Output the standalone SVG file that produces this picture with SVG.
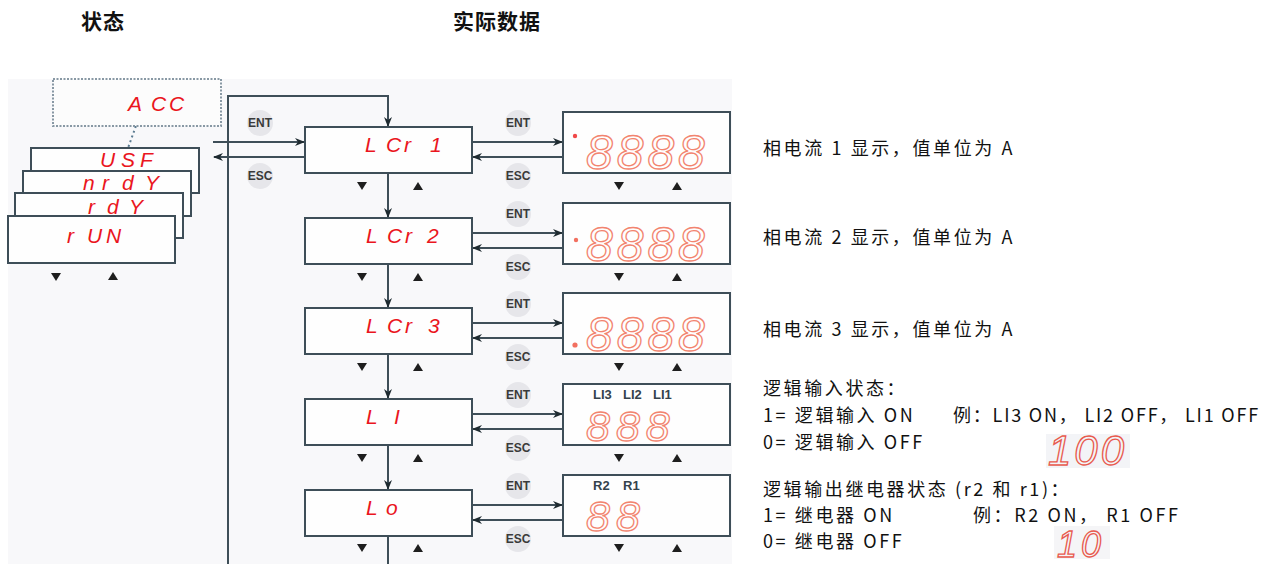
<svg xmlns="http://www.w3.org/2000/svg" width="1278" height="564" viewBox="0 0 1278 564">
<defs>
<style>
.box{fill:#fefefe;stroke:#3e4e58;stroke-width:2}
.ln{fill:none;stroke:#3e4e58;stroke-width:2}
.seg{font-family:"Liberation Sans",sans-serif;font-style:italic;fill:#ea1520;font-size:21px}
.btn{font-family:"Liberation Sans",sans-serif;font-weight:bold;font-size:12px;fill:#3a3a3a;text-anchor:middle}
.bc{fill:#e6e6ea}
.dig{font-family:"Liberation Sans",sans-serif;font-style:italic;fill:none;stroke:#f2846f;stroke-width:1.3}
.lab{font-family:"Liberation Sans",sans-serif;font-weight:bold;font-size:13px;fill:#34424c}
.tri{fill:#1e1e1e}
.txt{font-family:"Noto Sans CJK SC",sans-serif;font-size:18px;letter-spacing:2.6px;fill:#111}
.hd{font-family:"Noto Sans CJK SC",sans-serif;font-size:21px;letter-spacing:1px;font-weight:bold;fill:#111;text-anchor:middle}
</style>
<marker id="ah" viewBox="0 0 10 10" refX="9" refY="5" markerWidth="10" markerHeight="10" orient="auto" markerUnits="userSpaceOnUse"><path d="M0,1 L10,5 L0,9 L3,5z" fill="#1e2a30"/></marker>
<path id="dn" d="M-5,-4 H5 L0,4z"/>
<path id="up" d="M-5,4 H5 L0,-4z"/>
</defs>
<rect width="1278" height="564" fill="#fff"/>
<rect x="8" y="79" width="724" height="485" fill="#f8f8fa"/>

<text class="hd" x="103" y="29">状态</text>
<text class="hd" x="497" y="29">实际数据</text>

<g id="connectors">
<path class="ln" d="M228,564 V96 H388 V126" marker-end="url(#ah)"/>
<line class="ln" x1="213" y1="142" x2="304" y2="142" marker-end="url(#ah)"/>
<line class="ln" x1="305" y1="157" x2="214" y2="157" marker-end="url(#ah)"/>
<line x1="141" y1="112" x2="128" y2="148" stroke="#5a7a90" stroke-width="2" stroke-dasharray="2,3"/>
<line class="ln" x1="388" y1="173" x2="388" y2="217" marker-end="url(#ah)"/>
<line class="ln" x1="388" y1="264" x2="388" y2="307" marker-end="url(#ah)"/>
<line class="ln" x1="388" y1="354" x2="388" y2="398" marker-end="url(#ah)"/>
<line class="ln" x1="388" y1="445" x2="388" y2="489" marker-end="url(#ah)"/>
<line class="ln" x1="388" y1="536" x2="388" y2="564"/>
<line class="ln" x1="472" y1="142" x2="562" y2="142" marker-end="url(#ah)"/>
<line class="ln" x1="563" y1="157" x2="473" y2="157" marker-end="url(#ah)"/>
<line class="ln" x1="472" y1="233" x2="562" y2="233" marker-end="url(#ah)"/>
<line class="ln" x1="563" y1="248" x2="473" y2="248" marker-end="url(#ah)"/>
<line class="ln" x1="472" y1="323" x2="562" y2="323" marker-end="url(#ah)"/>
<line class="ln" x1="563" y1="338" x2="473" y2="338" marker-end="url(#ah)"/>
<line class="ln" x1="472" y1="414" x2="562" y2="414" marker-end="url(#ah)"/>
<line class="ln" x1="563" y1="429" x2="473" y2="429" marker-end="url(#ah)"/>
<line class="ln" x1="472" y1="505" x2="562" y2="505" marker-end="url(#ah)"/>
<line class="ln" x1="563" y1="520" x2="473" y2="520" marker-end="url(#ah)"/>
</g>

<g id="buttons">
<circle class="bc" cx="260" cy="123" r="13"/><text class="btn" x="260" y="127">ENT</text>
<circle class="bc" cx="260" cy="176" r="13"/><text class="btn" x="260" y="180">ESC</text>
<circle class="bc" cx="518" cy="123" r="13"/><text class="btn" x="518" y="127">ENT</text>
<circle class="bc" cx="518" cy="176" r="13"/><text class="btn" x="518" y="180">ESC</text>
<circle class="bc" cx="518" cy="214" r="13"/><text class="btn" x="518" y="218">ENT</text>
<circle class="bc" cx="518" cy="267" r="13"/><text class="btn" x="518" y="271">ESC</text>
<circle class="bc" cx="518" cy="304" r="13"/><text class="btn" x="518" y="308">ENT</text>
<circle class="bc" cx="518" cy="357" r="13"/><text class="btn" x="518" y="361">ESC</text>
<circle class="bc" cx="518" cy="395" r="13"/><text class="btn" x="518" y="399">ENT</text>
<circle class="bc" cx="518" cy="448" r="13"/><text class="btn" x="518" y="452">ESC</text>
<circle class="bc" cx="518" cy="486" r="13"/><text class="btn" x="518" y="490">ENT</text>
<circle class="bc" cx="518" cy="539" r="13"/><text class="btn" x="518" y="543">ESC</text>
</g>

<g id="state-stack">
<rect x="53" y="79" width="168" height="47" fill="#fcfcfc" stroke="#8898a4" stroke-width="2" stroke-dasharray="2,1.5"/>
<text class="seg" x="128 151 169" y="111">ACC</text>
<rect class="box" x="31" y="148" width="168" height="45"/>
<text class="seg" x="100 121 140" y="167">USF</text>
<rect class="box" x="23" y="171" width="168" height="45"/>
<text class="seg" x="83 102 122 145" y="190">nrdY</text>
<rect class="box" x="15" y="193" width="168" height="45"/>
<text class="seg" x="88 107 129" y="214">rdY</text>
<rect class="box" x="8" y="216" width="167" height="47"/>
<text class="seg" x="67 87 106" y="243">rUN</text>
<use href="#dn" class="tri" x="56" y="277"/>
<use href="#up" class="tri" x="113" y="276"/>
</g>

<g id="LCr1">
<rect class="box" x="305" y="127" width="167" height="46"/>
<text class="seg" x="365 386 404 430" y="152">LCr1</text>
<use href="#dn" class="tri" x="362" y="186"/><use href="#up" class="tri" x="418" y="186"/>
</g>
<g id="LCr2">
<rect class="box" x="305" y="218" width="167" height="46"/>
<text class="seg" x="366 387 405 427" y="243">LCr2</text>
<use href="#dn" class="tri" x="362" y="277"/><use href="#up" class="tri" x="418" y="277"/>
</g>
<g id="LCr3">
<rect class="box" x="305" y="308" width="167" height="46"/>
<text class="seg" x="366 387 405 428" y="333">LCr3</text>
<use href="#dn" class="tri" x="362" y="367"/><use href="#up" class="tri" x="418" y="367"/>
</g>
<g id="LI">
<rect class="box" x="305" y="399" width="167" height="46"/>
<text class="seg" x="366 394" y="424">LI</text>
<use href="#dn" class="tri" x="362" y="458"/><use href="#up" class="tri" x="418" y="458"/>
</g>
<g id="Lo">
<rect class="box" x="305" y="490" width="167" height="46"/>
<text class="seg" x="366 386" y="515">Lo</text>
<use href="#dn" class="tri" x="362" y="548"/><use href="#up" class="tri" x="418" y="548"/>
</g>

<g id="data1">
<rect class="box" x="563" y="112" width="167" height="61"/>
<circle cx="575" cy="136" r="2.2" fill="#f04848"/>
<text class="dig" x="586" y="169" font-size="48" letter-spacing="4">8888</text>
<use href="#dn" class="tri" x="619" y="186"/><use href="#up" class="tri" x="677" y="186"/>
</g>
<g id="data2">
<rect class="box" x="563" y="203" width="167" height="61"/>
<circle cx="576" cy="240" r="2.2" fill="#f27060"/>
<text class="dig" x="586" y="261" font-size="48" letter-spacing="4">8888</text>
<use href="#dn" class="tri" x="619" y="277"/><use href="#up" class="tri" x="677" y="277"/>
</g>
<g id="data3">
<rect class="box" x="563" y="293" width="167" height="61"/>
<circle cx="575" cy="345" r="2.6" fill="#f27060"/>
<text class="dig" x="586" y="351" font-size="48" letter-spacing="4">8888</text>
<use href="#dn" class="tri" x="619" y="367"/><use href="#up" class="tri" x="677" y="367"/>
</g>
<g id="data4">
<rect class="box" x="563" y="384" width="167" height="61"/>
<text class="lab" x="593" y="399">LI3</text>
<text class="lab" x="623" y="399">LI2</text>
<text class="lab" x="653" y="399">LI1</text>
<text class="dig" x="586" y="441" font-size="43" letter-spacing="6">888</text>
<use href="#dn" class="tri" x="619" y="458"/><use href="#up" class="tri" x="677" y="458"/>
</g>
<g id="data5">
<rect class="box" x="563" y="475" width="167" height="61"/>
<text class="lab" x="593" y="490">R2</text>
<text class="lab" x="623" y="490">R1</text>
<text class="dig" x="586" y="531" font-size="43" letter-spacing="6">88</text>
<use href="#dn" class="tri" x="619" y="548"/><use href="#up" class="tri" x="677" y="548"/>
</g>

<g id="notes">
<text class="txt" x="763" y="155">相电流 1 显示，值单位为 A</text>
<text class="txt" x="763" y="244">相电流 2 显示，值单位为 A</text>
<text class="txt" x="763" y="336">相电流 3 显示，值单位为 A</text>
<text class="txt" x="763" y="395">逻辑输入状态：</text>
<text class="txt" x="763" y="422">1= 逻辑输入 ON</text>
<text class="txt" x="953" y="422" style="letter-spacing:1.8px">例：LI3 ON， LI2 OFF， LI1 OFF</text>
<text class="txt" x="763" y="449">0= 逻辑输入 OFF</text>
<rect x="1046" y="434" width="84" height="34" fill="#f3f4f7"/>
<text class="dig" x="1048" y="465" font-size="42" letter-spacing="3" style="stroke:#e85a4e">100</text>
<text class="txt" x="763" y="496">逻辑输出继电器状态 (r2 和 r1)：</text>
<text class="txt" x="763" y="522">1= 继电器 ON</text>
<text class="txt" x="973" y="522">例：R2 ON， R1 OFF</text>
<text class="txt" x="763" y="548">0= 继电器 OFF</text>
<rect x="1054" y="526" width="56" height="33" fill="#f5f5f7"/>
<text class="dig" x="1057" y="557" font-size="36" letter-spacing="4" style="stroke:#e85a4e">10</text>
</g>
</svg>
